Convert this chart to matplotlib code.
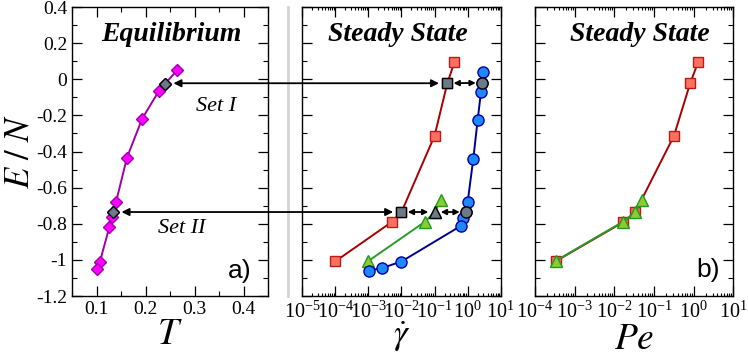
import numpy as np
import matplotlib
matplotlib.use('Agg')
import matplotlib.pyplot as plt
from matplotlib.patches import ConnectionPatch
from matplotlib.lines import Line2D
from matplotlib.ticker import FixedLocator, MultipleLocator, LogLocator, NullFormatter

plt.rcParams['font.family'] = ['Liberation Serif', 'DejaVu Serif']
plt.rcParams['mathtext.fontset'] = 'stix'
plt.rcParams['axes.unicode_minus'] = False

# Equilibrium panel: E/N vs T
T_eq = [0.265, 0.240, 0.227, 0.193, 0.162, 0.140, 0.134, 0.131, 0.126, 0.107, 0.101]
E_eq = [0.05, -0.024, -0.066, -0.219, -0.435, -0.678, -0.735, -0.764, -0.82, -1.009, -1.053]
set_idx_eq = [1, 6]

# Steady state: E/N vs shear rate
gd_red = [0.4, 0.243, 0.1, 0.01, 5e-3, 1e-4]
E_red = [0.095, -0.022, -0.313, -0.735, -0.791, -1.008]
set_idx_red = [1, 3]

gd_blue = [2.98, 2.72, 2.53, 2.0, 1.48, 1.0, 0.89, 0.74, 0.62, 0.01, 2.5e-3, 1.04e-3]
E_blue = [0.042, -0.02, -0.07, -0.228, -0.442, -0.681, -0.735, -0.77, -0.812, -1.009, -1.046, -1.059]
set_idx_blue = [1, 6]

gd_green = [0.156, 0.1, 0.052, 1e-3]
E_green = [-0.668, -0.735, -0.788, -1.006]
set_idx_green = [1]

# Steady state: E/N vs Peclet number
Pe_red = [1.3, 0.82, 0.32, 0.034, 0.0168, 3.3e-4]
Pe_green = [0.05, 0.034, 0.0168, 3.3e-4]

ytick_vals = [0.4, 0.2, 0, -0.2, -0.4, -0.6, -0.8, -1, -1.2]
ytick_labels = ['0.4', '0.2', '0', '-0.2', '-0.4', '-0.6', '-0.8', '-1', '-1.2']
xtick_eq = [0.1, 0.2, 0.3, 0.4]
xtick_eq_labels = ['0.1', '0.2', '0.3', '0.4']

red_line, red_face, red_edge = '#a80000', '#f87262', '#c01818'
blue_line, blue_face, blue_edge = '#000090', '#1e88ff', '#0000a0'
green_line, green_face, green_edge = '#2a9a2a', '#8ccc30', '#209a20'
mag_line, mag_face, mag_edge = '#a000a0', '#ff00ff', '#a000b0'
gray_face = '#6c7a88'

fig = plt.figure(figsize=(7.48, 3.56), dpi=100)
bot, h = 0.1685, 0.8118
ax1 = fig.add_axes([0.0963, bot, 0.262, h])
ax2 = fig.add_axes([0.4041, bot, 0.2653, h])
ax3 = fig.add_axes([0.7152, bot, 0.2651, h])


def style(ax):
    ax.set_ylim(-1.2, 0.4)
    ax.yaxis.set_major_locator(FixedLocator(ytick_vals))
    ax.yaxis.set_minor_locator(MultipleLocator(0.1))
    ax.tick_params(which='both', direction='in', top=True, right=True, labelsize=14)
    ax.tick_params(which='major', length=7, width=0.9)
    ax.tick_params(which='minor', length=3.5, width=0.8)
    for s in ax.spines.values():
        s.set_linewidth(1.0)


def log_x(ax, lo, hi):
    ax.set_xscale('log')
    ax.set_xlim(lo, hi)
    ax.xaxis.set_major_locator(LogLocator(base=10, numticks=10))
    ax.xaxis.set_minor_locator(LogLocator(base=10, subs=np.arange(2, 10), numticks=20))
    ax.xaxis.set_minor_formatter(NullFormatter())
    ax.tick_params(labelleft=False)
    ax.tick_params(axis='x', labelsize=14.5, pad=4)
    ax.tick_params(axis='x', which='minor', length=2.5)


def series(ax, x, y, lc, fc, ec, marker, ms, gray_idx):
    ax.plot(x, y, '-', color=lc, lw=1.4, marker=marker, ms=ms,
            mfc=fc, mec=ec, mew=1.0, zorder=3)
    gx = [x[i] for i in gray_idx]
    gy = [y[i] for i in gray_idx]
    ax.plot(gx, gy, ls='none', marker=marker, ms=ms, mfc=gray_face,
            mec='k', mew=1.0, zorder=4)


title_kw = dict(ha='center', va='center', fontsize=20, fontweight='bold', fontstyle='italic')

# panel a
style(ax1)
ax1.set_xlim(0.05, 0.45)
ax1.xaxis.set_major_locator(FixedLocator(xtick_eq))
ax1.xaxis.set_minor_locator(MultipleLocator(0.05))
ax1.set_xticklabels(xtick_eq_labels)
ax1.set_yticklabels(ytick_labels)
series(ax1, T_eq, E_eq, mag_line, mag_face, mag_edge, 'D', 6.5, set_idx_eq)
ax1.set_xlabel('$T$', fontsize=27, labelpad=0)
ax1.set_ylabel('$E\\ /\\ N$', fontsize=25, labelpad=0)
ax1.text(0.505, 0.905, 'Equilibrium', transform=ax1.transAxes, **title_kw)
ax1.text(0.857, 0.085, 'a)', transform=ax1.transAxes, ha='center', va='center',
         fontsize=19, family=['Liberation Sans', 'DejaVu Sans'])
ax1.text(0.344, -0.15, 'Set I', ha='center', va='center', fontsize=16, fontstyle='italic')
ax1.text(0.274, -0.825, 'Set II', ha='center', va='center', fontsize=16, fontstyle='italic')

# panel shear rate
style(ax2)
log_x(ax2, 1e-5, 1e1)
series(ax2, gd_red, E_red, red_line, red_face, red_edge, 's', 7.5, set_idx_red)
series(ax2, gd_green, E_green, green_line, green_face, green_edge, '^', 8.5, set_idx_green)
series(ax2, gd_blue, E_blue, blue_line, blue_face, blue_edge, 'o', 8, set_idx_blue)
ax2.set_xlabel('$\\dot{\\gamma}$', fontsize=25, labelpad=-2)
ax2.text(0.482, 0.905, 'Steady State', transform=ax2.transAxes, **title_kw)

# panel b
style(ax3)
log_x(ax3, 1e-4, 1e1)
ax3.plot(Pe_red, E_red, '-', color=red_line, lw=1.4, marker='s', ms=7.5,
         mfc=red_face, mec=red_edge, mew=1.0, zorder=3)
ax3.plot(Pe_green, E_green, '-', color=green_line, lw=1.4, marker='^', ms=8.5,
         mfc=green_face, mec=green_edge, mew=1.0, zorder=4)
ax3.set_xlabel('$Pe$', fontsize=27, labelpad=0)
ax3.text(0.53, 0.905, 'Steady State', transform=ax3.transAxes, **title_kw)
ax3.text(0.874, 0.09, 'b)', transform=ax3.transAxes, ha='center', va='center',
         fontsize=19, family=['Liberation Sans', 'DejaVu Sans'])

# separator line between equilibrium and steady-state panels
fig.add_artist(Line2D([0.3846, 0.3846], [bot, bot + h], color='#d4d4d4', lw=2,
                      transform=fig.transFigure))

# long arrows linking the equilibrium and steady-state sets
for k in range(2):
    i_eq = set_idx_eq[k]
    i_red = set_idx_red[k]
    y_arrow = E_red[i_red]
    con = ConnectionPatch(xyA=(T_eq[i_eq], y_arrow), coordsA=ax1.transData,
                          xyB=(gd_red[i_red], y_arrow), coordsB=ax2.transData,
                          arrowstyle='<|-|>', color='k', lw=1.3,
                          shrinkA=6, shrinkB=6, mutation_scale=11, zorder=5)
    fig.add_artist(con)

# short arrows between the sets in the shear-rate panel
pairs = [((gd_red[1], E_red[1]), (gd_blue[1], E_blue[1])),
         ((gd_red[3], E_red[3]), (gd_green[1], E_green[1])),
         ((gd_green[1], E_green[1]), (gd_blue[6], E_blue[6]))]
for a, b in pairs:
    ax2.annotate('', xy=a, xytext=b,
                 arrowprops=dict(arrowstyle='<|-|>', color='k', lw=1.3,
                                 shrinkA=4.5, shrinkB=4.5, mutation_scale=8))

fig.savefig('out.png', dpi=100)
